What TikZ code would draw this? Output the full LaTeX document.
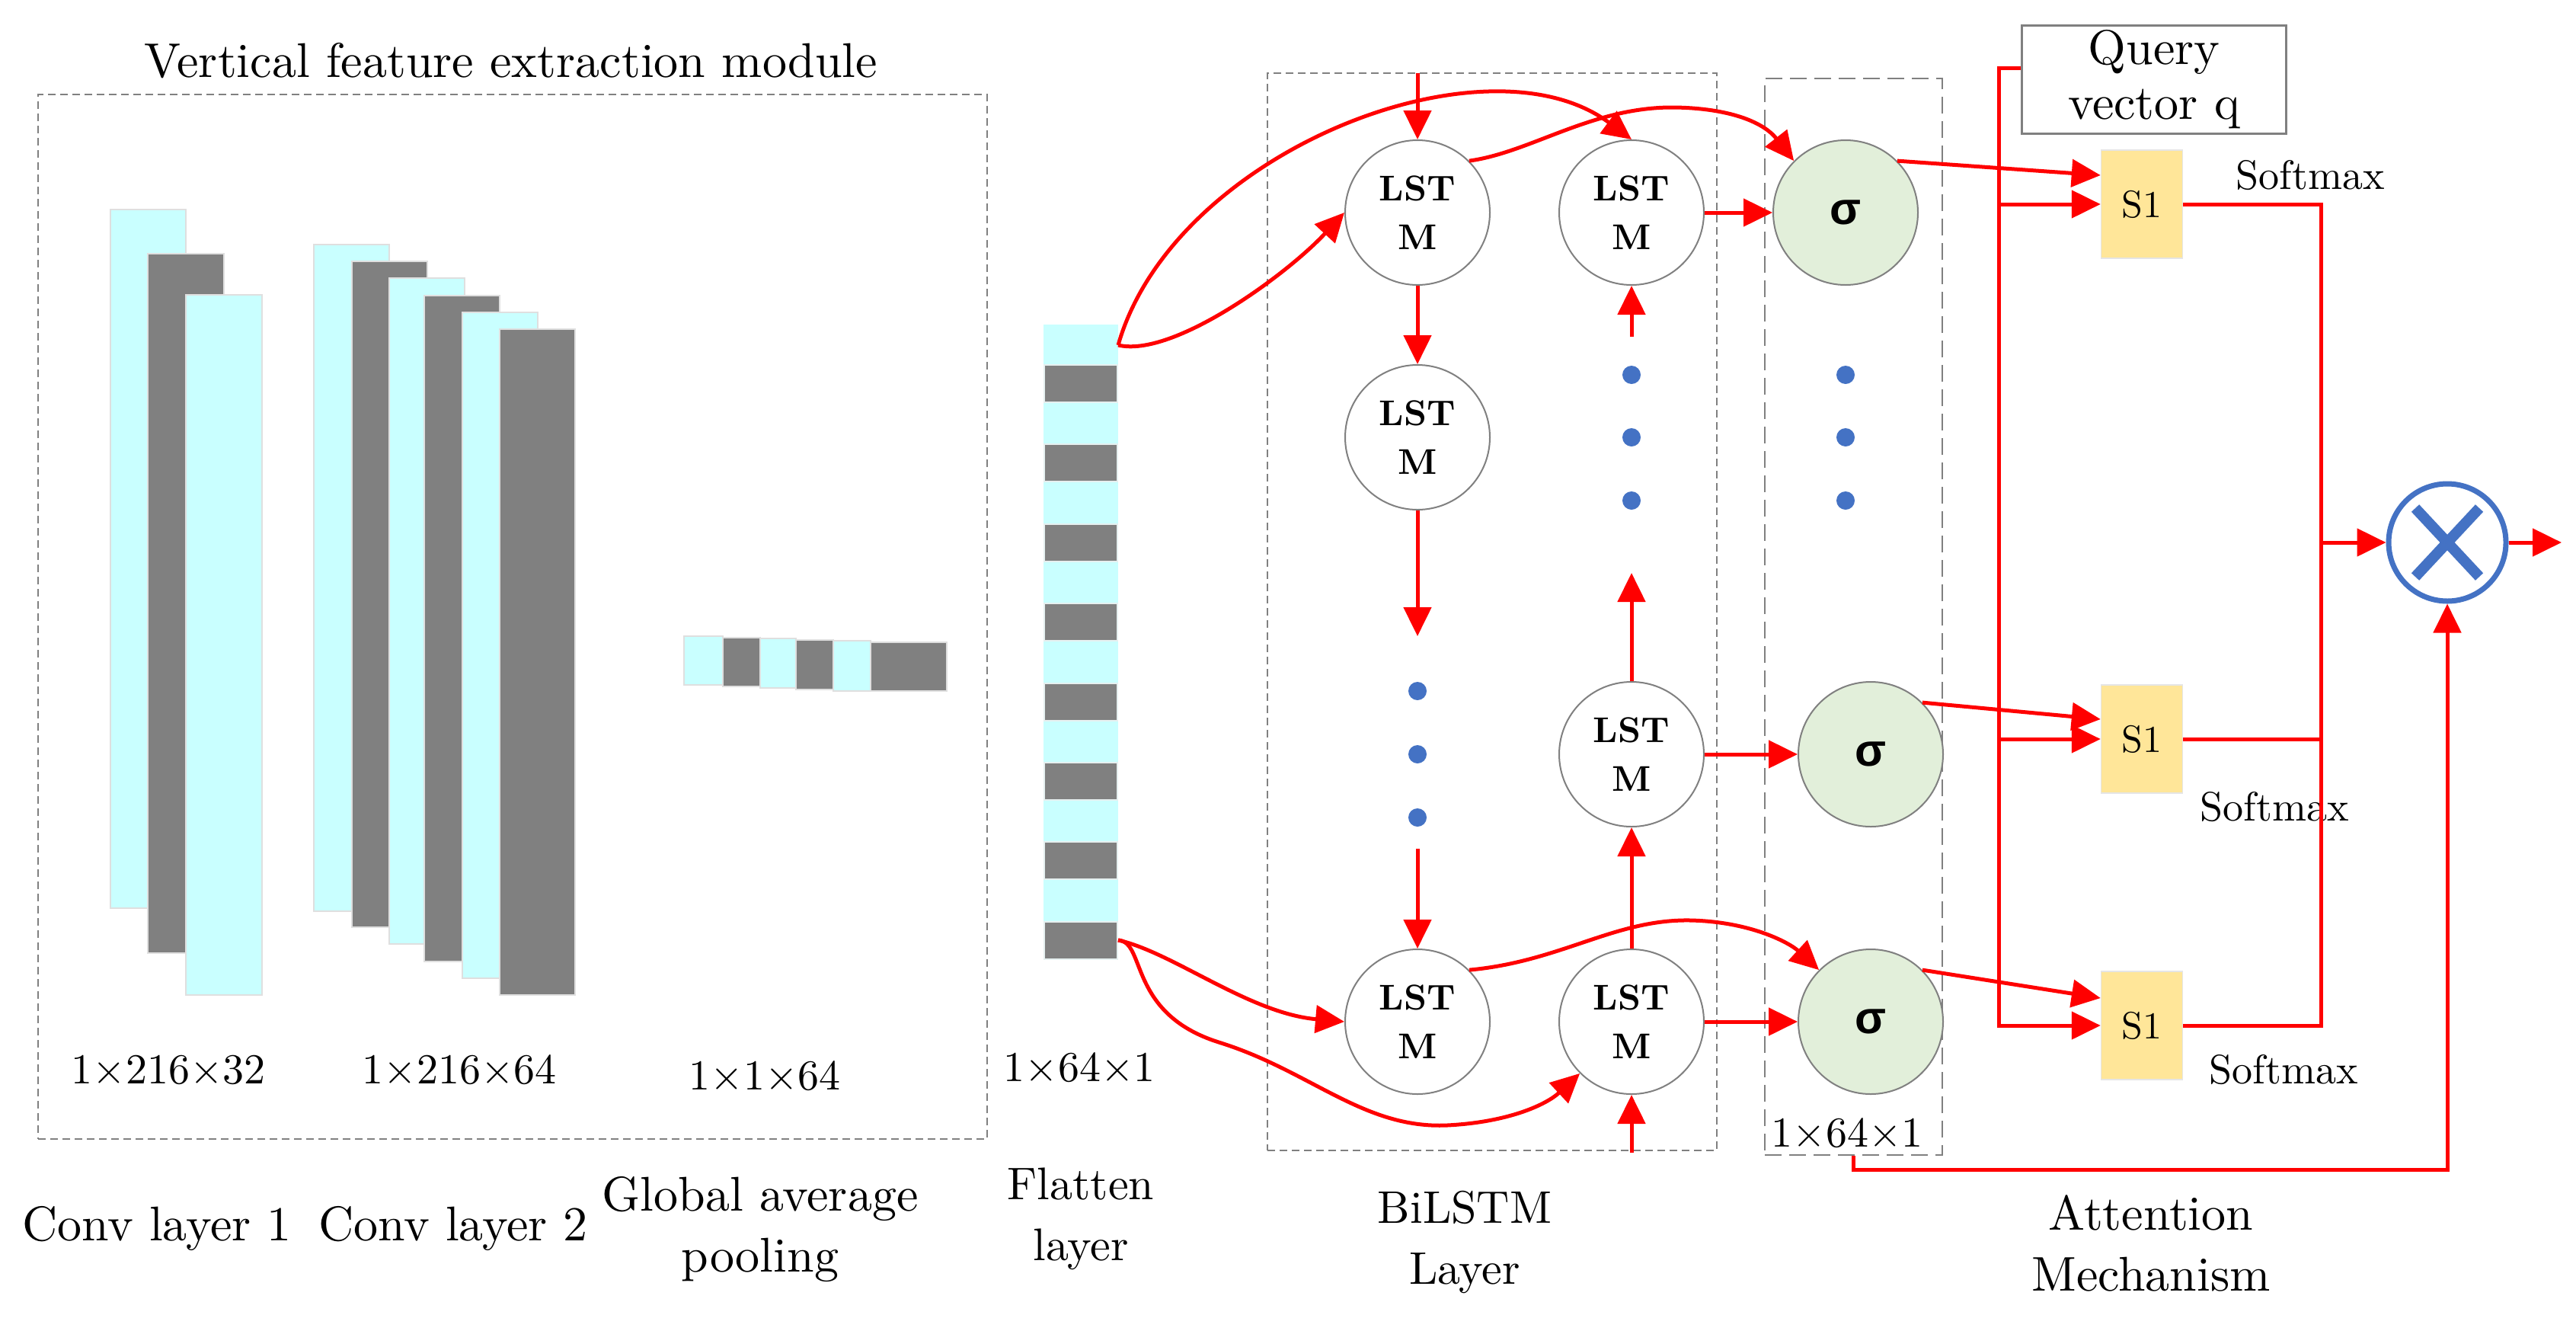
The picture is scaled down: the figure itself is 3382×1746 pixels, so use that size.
\documentclass[tikz,border=0pt]{standalone}
\usepackage{fontspec}
\setmainfont{lmroman10-regular.otf}[BoldFont=lmroman10-bold.otf, ItalicFont=lmroman10-italic.otf]
\newfontfamily\sigfont{Liberation Sans}
\usetikzlibrary{arrows.meta}
\definecolor{cyanbar}{HTML}{C9FFFF}
\definecolor{graybar}{HTML}{808080}
\definecolor{redl}{HTML}{FF0000}
\definecolor{dotblue}{HTML}{4472C4}
\definecolor{sigfill}{HTML}{E2EFDA}
\definecolor{sfill}{HTML}{FFE699}
\definecolor{boxgray}{HTML}{808080}
\begin{document}
\begin{tikzpicture}[x=1pt,y=-1pt,
  lbl/.style={font=\fontsize{64}{80}\selectfont, align=center, inner sep=0pt},
  lbls/.style={font=\fontsize{60}{80}\selectfont, align=center, inner sep=0pt},
  dim/.style={font=\fontsize{56}{70}\selectfont, inner sep=0pt},
  soft/.style={font=\fontsize{54}{64}\selectfont, inner sep=0pt},
  lstm/.style={circle, draw=boxgray, line width=2pt, fill=white, minimum size=190pt, inner sep=0pt, align=center, font=\fontsize{47}{64}\selectfont\bfseries},
  sig/.style={circle, draw=boxgray, line width=2pt, fill=sigfill, minimum size=190pt, inner sep=0pt, font=\sigfont\fontsize{60}{70}\selectfont\bfseries},
  sbox/.style={rectangle, draw=gray!20, line width=1.5pt, fill=sfill, minimum width=107pt, minimum height=142pt, inner sep=0pt, font=\fontsize{50}{60}\selectfont},
  cbar/.style={fill=cyanbar, draw=gray!25, line width=2pt},
  gbar/.style={fill=graybar, draw=gray!25, line width=2pt},
  conn/.style={draw=redl, line width=5pt, -{Triangle[length=38pt,width=36pt]}},
  wire/.style={draw=redl, line width=5pt},
  dashbox/.style={draw=gray, line width=2pt, dash pattern=on 10pt off 6pt, inner sep=0pt},
  dashboxb/.style={draw=gray, line width=2.5pt, dash pattern=on 22pt off 10pt, inner sep=0pt},
  bdot/.style={circle, fill=dotblue, minimum size=24pt, inner sep=0pt}
]
\useasboundingbox (0,0) rectangle (3382,1746);
\fill[white] (0,0) rectangle (3382,1746);

% ---------- vertical feature extraction module ----------
\node[lbl] (title) at (671,80) {Vertical feature extraction module};
\node[dashbox, minimum width=1246pt, minimum height=1371pt] (vbox) at (673,809.5) {};

% conv layer 1
\draw[cbar] (145,275) rectangle (244,1192);
\draw[gbar] (194,333) rectangle (294,1251);
\draw[cbar] (244,387) rectangle (344,1306);
% conv layer 2
\draw[cbar] (412,321) rectangle (511,1196);
\draw[gbar] (462,343) rectangle (561,1217);
\draw[cbar] (511,365) rectangle (610,1239);
\draw[gbar] (557,388) rectangle (656,1262);
\draw[cbar] (607,410) rectangle (706,1284);
\draw[gbar] (656,432) rectangle (755,1306);
% global average pooling
\draw[cbar] (898,835) rectangle (949,899);
\draw[gbar] (949,837) rectangle (998,901);
\draw[cbar] (998,838) rectangle (1045,903);
\draw[gbar] (1045,840) rectangle (1094,905);
\draw[cbar] (1094,841) rectangle (1143,907);
\draw[gbar] (1143,843) rectangle (1243,907);

\node[dim] (d1) at (221,1404) {1×216×32};
\node[dim] (d2) at (603,1404) {1×216×64};
\node[dim] (d3) at (1004,1412) {1×1×64};

\node[lbl] (c1) at (206,1612) {Conv layer 1};
\node[lbl] (c2) at (595,1612) {Conv layer 2};
\node[lbl] (gap) at (998,1614) {Global average\\pooling};

% ---------- flatten ----------
\fill[cyanbar] (1370,426) rectangle (1468,1260);
\foreach \k in {0,...,7}{
  \draw[gbar, draw=cyanbar!60!gray!30] (1371,479+\k*104.4) rectangle (1467,528+\k*104.4);
}
\coordinate (ft) at (1468,453);
\coordinate (fb) at (1468,1234);
\node[dim] (d4) at (1417,1401) {1×64×1};
\node[lbls] (flat) at (1419,1600) {Flatten\\layer};

% ---------- BiLSTM ----------
\node[dashbox, minimum width=590pt, minimum height=1414pt] (bbox) at (1959,803) {};
\node[lstm] (l1) at (1861,279) {LST\\M};
\node[lstm] (l2) at (1861,574) {LST\\M};
\node[lstm] (l3) at (1861,1341) {LST\\M};
\node[lstm] (r1) at (2142,279) {LST\\M};
\node[lstm] (r2) at (2142,990) {LST\\M};
\node[lstm] (r3) at (2142,1341) {LST\\M};
\node[bdot] (ld1) at (1861,907) {};
\node[bdot] (ld2) at (1861,990) {};
\node[bdot] (ld3) at (1861,1073) {};
\node[bdot] (rd1) at (2142,492) {};
\node[bdot] (rd2) at (2142,574) {};
\node[bdot] (rd3) at (2142,657) {};
\node[lbls] (bil) at (1923,1630) {BiLSTM\\Layer};

% ---------- sigma column ----------
\node[dashboxb, minimum width=233pt, minimum height=1413pt] (sigbox) at (2433.5,809.5) {};
\node[sig] (s1) at (2423,279) {σ};
\node[sig] (s2) at (2456,990) {σ};
\node[sig] (s3) at (2456,1341) {σ};
\node[bdot] (sd1) at (2423,492) {};
\node[bdot] (sd2) at (2423,574) {};
\node[bdot] (sd3) at (2423,657) {};
\node[dim] (d5) at (2425,1487) {1×64×1};

% ---------- attention ----------
\node[draw=boxgray, line width=3pt, minimum width=347pt, minimum height=142pt, align=center, inner sep=0pt, font=\fontsize{64}{72}\selectfont] (query) at (2828,104) {Query\\vector q};
\node[sbox] (q1) at (2812,268) {S1};
\node[sbox] (q2) at (2812,970) {S1};
\node[sbox] (q3) at (2812,1346) {S1};
\node[soft] (sm1) at (3033,230) {Softmax};
\node[soft] (sm2) at (2986,1059) {Softmax};
\node[soft] (sm3) at (2998,1404) {Softmax};
\node[circle, draw=dotblue, line width=7pt, minimum size=154pt, inner sep=0pt] (mult) at (3213,712) {};
\draw[dotblue, line width=14pt] ([shift={(-42,-45)}]mult.center) -- ([shift={(42,45)}]mult.center);
\draw[dotblue, line width=14pt] ([shift={(42,-45)}]mult.center) -- ([shift={(-42,45)}]mult.center);
\node[lbl] (att) at (2824,1632) {Attention\\Mechanism};

% ---------- connectors ----------
\coordinate (topin) at (1861,96);
\coordinate (lda) at (1861,835);
\coordinate (ldb) at (1861,1114);
\coordinate (rda) at (2142,442);
\coordinate (rdb) at (2142,752);
\coordinate (botin) at (2142,1513);
\draw[conn] (topin) -- (l1.north);
\draw[conn] (l1.south) -- (l2.north);
\draw[conn] (l2.south) -- (lda);
\draw[conn] (ldb) -- (l3.north);
\draw[conn] (rda) -- (r1.south);
\draw[conn] (r2.north) -- (rdb);
\draw[conn] (r3.north) -- (r2.south);
\draw[conn] (botin) -- (r3.south);
\draw[conn] (r1.east) -- (s1.west);
\draw[conn] (r2.east) -- (s2.west);
\draw[conn] (r3.east) -- (s3.west);

\draw[conn] (ft) .. controls (1540,200) and (1950,40) .. (r1.north);
\draw[conn] (ft) .. controls (1540,470) and (1690,360) .. (l1.west);
\draw[conn] (l1.north east) .. controls (2010,200) and (2090,140) .. (2198,141) .. controls (2270,142) and (2315,160) .. (s1.north west);

\draw[conn] (fb) .. controls (1540,1250) and (1640,1330) .. (l3.west);
\draw[conn] (fb) .. controls (1505,1236) and (1480,1330) .. (1600,1368) .. controls (1720,1405) and (1790,1482) .. (1900,1477) .. controls (1980,1473) and (2030,1450) .. (r3.south west);
\draw[conn] (l3.north east) .. controls (2050,1262) and (2120,1206) .. (2220,1208) .. controls (2300,1210) and (2350,1238) .. (s3.north west);

\coordinate (vq) at (2624,89);
\draw[conn] ([yshift=15pt]query.west) -- (vq) |- (q3.west);
\draw[conn] (vq |- q1.west) -- (q1.west);
\draw[conn] (vq |- q2.west) -- (q2.west);
\draw[conn] (s1.north east) -- ([yshift=38pt]q1.west);
\draw[conn] (s2.north east) -- ([yshift=26pt]q2.west);
\draw[conn] (s3.north east) -- ([yshift=36pt]q3.west);

\coordinate (vs) at (3047,268);
\coordinate (out) at (3363,712);
\draw[wire] (q1.east) -- (vs) |- (q3.east);
\draw[wire] (q2.east) -- (q2.east -| vs);
\draw[conn] (vs |- mult.west) -- (mult.west);
\draw[conn] (mult.east) -- (out);
\draw[conn] (sigbox.south) -- ++(0,18) -| (mult.south);
\end{tikzpicture}
\end{document}
